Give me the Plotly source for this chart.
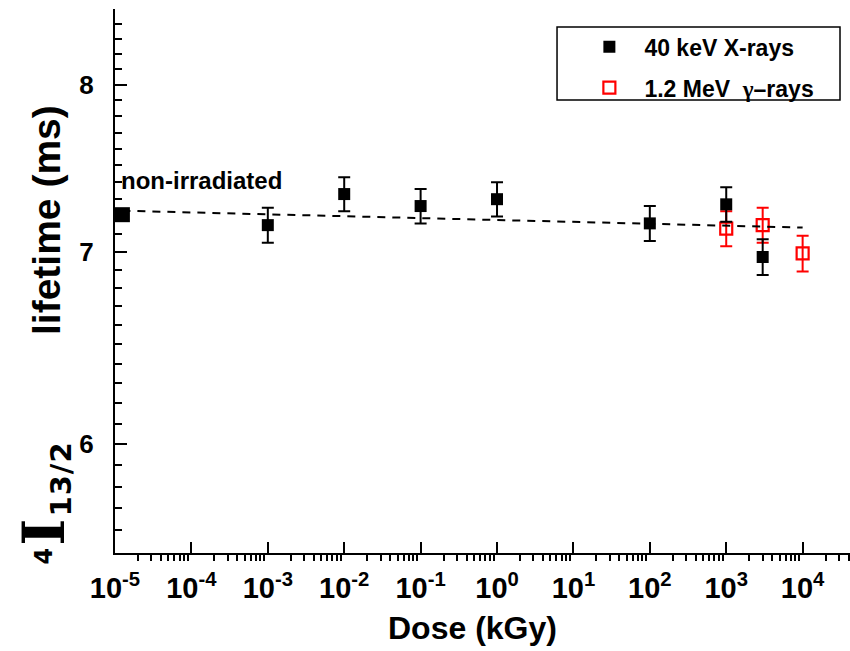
import plotly.graph_objects as go

# ---- data ----
nonirr_dose = [1.25e-5]
nonirr_life = [7.21]

xray_dose = [1e-3, 1e-2, 1e-1, 1e0, 1e2, 1e3, 3e3]
xray_life = [7.15, 7.33, 7.26, 7.30, 7.16, 7.27, 6.97]
xray_err = [0.10, 0.10, 0.10, 0.10, 0.10, 0.10, 0.10]

gamma_dose = [1e3, 3e3, 1e4]
gamma_life = [7.13, 7.15, 6.99]
gamma_err = [0.10, 0.10, 0.10]

fit_dose = [1.25e-5, 1e4]
fit_life = [7.233, 7.136]

x_tick_exp = [-5, -4, -3, -2, -1, 0, 1, 2, 3, 4]
y_tick_vals = [6, 7, 8]

FONT = "Liberation Sans, Arial, sans-serif"

x_minor = [m * 10 ** e for e in range(-5, 5) for m in range(2, 10)]
y_minor = [round(v / 10, 1) for v in range(55, 86) if v % 10 != 0]

fig = go.Figure()

fig.add_trace(go.Scatter(
    x=gamma_dose, y=gamma_life, mode="markers", name="1.2 MeV  <span style='font-family:Liberation Serif'>γ</span>–rays",
    marker=dict(symbol="square-open", size=12, color="#ff0000", line=dict(width=2.2, color="#ff0000")),
    error_y=dict(type="data", array=gamma_err, color="#ff0000", thickness=2, width=6),
    legendrank=2, legendgroup="g",
))
fig.add_trace(go.Scatter(
    x=fit_dose, y=fit_life, mode="lines", showlegend=False,
    line=dict(color="black", width=2, dash="8px,7px"),
))
fig.add_trace(go.Scatter(
    x=xray_dose, y=xray_life, mode="markers", name="40 keV X-rays",
    marker=dict(symbol="square", size=12, color="black"),
    error_y=dict(type="data", array=xray_err, color="black", thickness=2, width=6),
    legendrank=1, legendgroup="x",
))
fig.add_trace(go.Scatter(
    x=nonirr_dose, y=nonirr_life, mode="markers", showlegend=False,
    marker=dict(symbol="square", size=15, color="black"),
))

fig.update_layout(
    width=850, height=651,
    margin=dict(l=115, r=0, t=9, b=98),
    paper_bgcolor="white", plot_bgcolor="white",
    font=dict(family=FONT, color="black"),
    showlegend=True,
    legend=dict(
        x=0.625, y=0.97, xanchor="left", yanchor="top",
        bgcolor="rgba(0,0,0,0)", borderwidth=0,
        font=dict(size=23, family=FONT, weight="bold"),
        itemwidth=60, tracegroupgap=8,
    ),
    shapes=[dict(type="rect", xref="paper", yref="paper",
                 x0=0.6014, x1=0.9864, y0=0.8327, y1=0.9669,
                 line=dict(color="black", width=1.5), fillcolor="rgba(0,0,0,0)")],
)

fig.update_xaxes(
    type="log", range=[-5, 4.62],
    showline=True, linecolor="black", linewidth=2, mirror=False,
    showgrid=False, zeroline=False,
    ticks="inside", ticklen=11, tickwidth=2, tickcolor="black",
    tickmode="array", tickvals=[10 ** e for e in x_tick_exp],
    ticktext=[f"10<sup>{e}</sup>" for e in x_tick_exp],
    tickfont=dict(size=29, family=FONT, weight="bold"),
    ticklabelstandoff=8,
    minor=dict(ticks="outside", ticklen=6, tickwidth=2, tickcolor="black",
               tickmode="array", tickvals=x_minor, showgrid=False),
)
fig.update_yaxes(
    type="log", range=[0.74036, 0.92942],
    showline=True, linecolor="black", linewidth=2, mirror=False,
    showgrid=False, zeroline=False,
    ticks="inside", ticklen=12, tickwidth=2, tickcolor="black",
    tickmode="array", tickvals=y_tick_vals, ticktext=[str(v) for v in y_tick_vals],
    tickfont=dict(size=26, family=FONT, weight="bold"),
    ticklabelstandoff=14,
    minor=dict(ticks="inside", ticklen=7, tickwidth=2, tickcolor="black",
               tickmode="array", tickvals=y_minor, showgrid=False),
)

fig.add_annotation(
    text="Dose (kGy)", xref="paper", yref="paper", x=0.486, y=-0.102,
    xanchor="center", yanchor="top", showarrow=False,
    font=dict(size=32, family=FONT, weight="bold"),
)
fig.add_annotation(
    text="lifetime (ms)",
    xref="paper", yref="paper", x=-0.094, y=0.612,
    xanchor="center", yanchor="middle", textangle=-90, showarrow=False,
    font=dict(size=39, family=FONT, weight="bold"),
)
fig.add_annotation(
    text=("<sup><span style='font-family:DejaVu Sans;font-size:24px;letter-spacing:2px'>4</span></sup>"
          "<span style='font-family:DejaVu Serif;font-size:58px;letter-spacing:2px'>I</span>"
          "<sub><span style='font-family:DejaVu Sans;font-size:29px;letter-spacing:1px'>13/2</span></sub>"),
    xref="paper", yref="paper", x=-0.096, y=0.092,
    xanchor="center", yanchor="middle", textangle=-90, showarrow=False,
    font=dict(size=30, family=FONT, weight="bold"),
)
fig.add_annotation(
    text="non-irradiated", x=-4.95, y=0.86998, xref="x", yref="y",
    xanchor="left", yanchor="middle", showarrow=False,
    font=dict(size=24, family=FONT, weight="bold"),
)

fig.write_html("out.html")
